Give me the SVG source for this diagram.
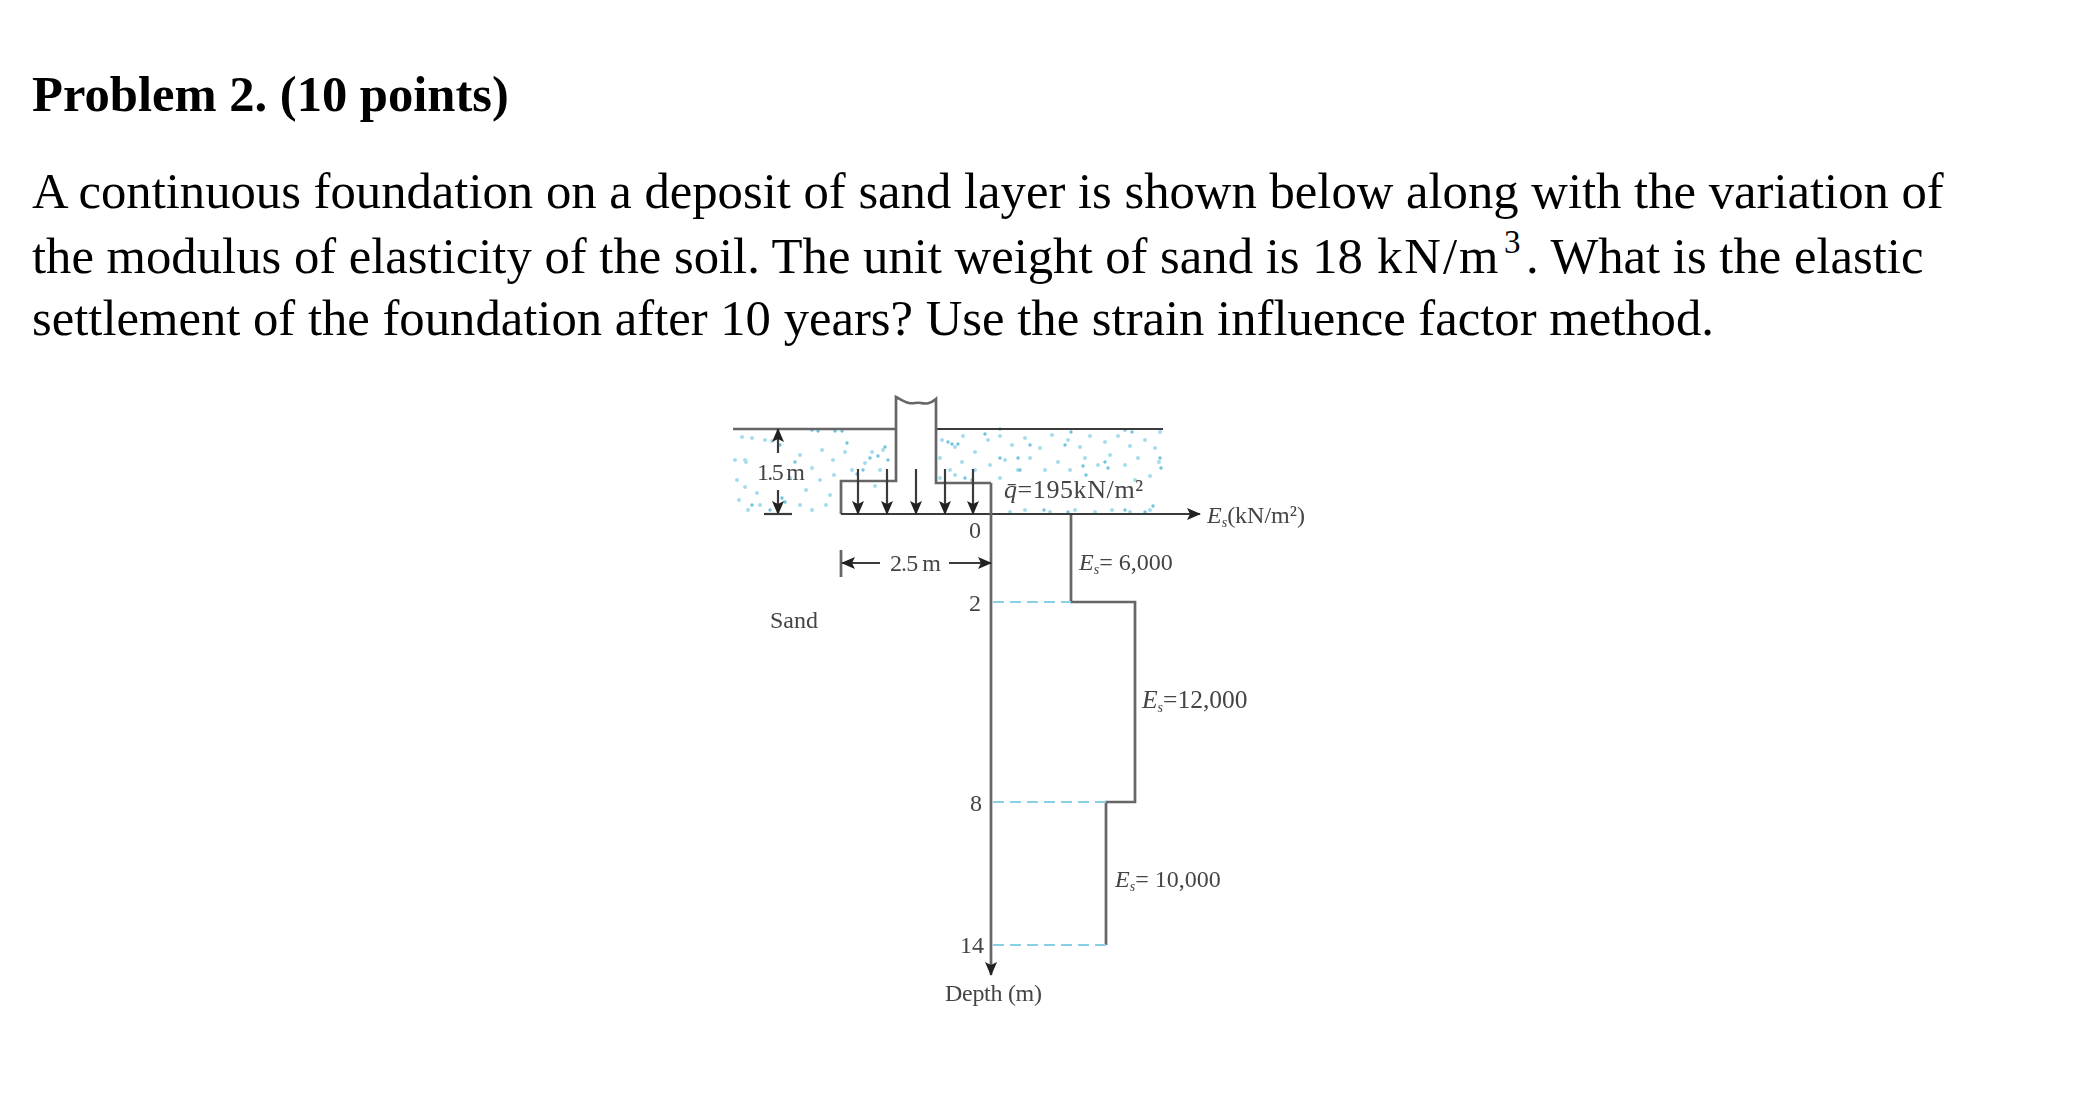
<svg xmlns="http://www.w3.org/2000/svg" width="2079" height="1112" viewBox="0 0 2079 1112">
<style>
.page{font-family:"Liberation Serif","Times New Roman",serif;fill:#000}
.h{font-size:50.6px;font-weight:bold}
.b{font-size:50.7px}
.sup{font-size:33px}
.t{font-family:"Liberation Serif","Times New Roman",serif;fill:#444;font-size:24px}
.i{font-style:italic}
.sub{font-size:14px}
.ln{fill:none;stroke:#666;stroke-width:2.7}
.blk{fill:none;stroke:#3a3a3a;stroke-width:2.2}
.dash{fill:none;stroke:#86d2e4;stroke-width:2;stroke-dasharray:11 6}
.dots{fill:none;stroke:#a6dcec;stroke-width:4;stroke-linecap:round}
.dots2{fill:none;stroke:#6fc3dc;stroke-width:3.4;stroke-linecap:round}
</style>
<defs>
<filter id="soft" x="-5%" y="-5%" width="110%" height="110%"><feGaussianBlur stdDeviation="0.7"/></filter>
<marker id="ah" viewBox="0 0 14 12" refX="13" refY="6" markerWidth="14" markerHeight="12" markerUnits="userSpaceOnUse" orient="auto"><path d="M0 0L14 6L0 12L3 6Z" fill="#222"/></marker>
</defs>
<rect width="2079" height="1112" fill="#fff"/>
<g id="problem-text" class="page">
<text class="h" x="32" y="111">Problem 2. (10 points)</text>
<text class="b" x="32" y="208">A continuous foundation on a deposit of sand layer is shown below along with the variation of</text>
<text class="b" x="32" y="273">the modulus of elasticity of the soil. The unit weight of sand is 18 <tspan x="1377" letter-spacing="2">kN/m</tspan><tspan x="1504" dy="-20" class="sup">3</tspan><tspan x="1526" dy="20">. What is the elastic</tspan></text>
<text class="b" x="32" y="335">settlement of the foundation after 10 years? Use the strain influence factor method.</text>
</g>
<g filter="url(#soft)">
<g id="sand-stipple">
<path class="dots" d="M742 437h0M752 438h0M765 440h0M745 460h0M746 462h0M737 480h0M739 500h0M748 510h0M757 493h0M772 441h0M800 455h0M812 468h0M822 450h0M833 460h0M845 452h0M852 470h0M865 463h0M872 452h0M883 450h0M820 480h0M834 475h0M806 490h0M800 505h0M790 478h0M812 510h0M830 495h0M745 487h0M760 505h0M735 460h0M880 470h0M875 486h0M826 505h0M942 440h0M955 447h0M963 436h0M975 452h0M988 440h0M1000 436h0M1012 445h0M1025 438h0M1040 448h0M1052 435h0M1068 440h0M1080 447h0M1090 436h0M1105 442h0M1118 436h0M1130 446h0M1145 440h0M1155 448h0M1159 462h0M1138 458h0M1125 465h0M1110 455h0M1098 465h0M1085 458h0M1070 470h0M1058 462h0M1045 470h0M1030 458h0M1018 470h0M1005 460h0M990 465h0M975 470h0M962 462h0M950 470h0M940 458h0M1000 478h0M1150 476h0M1135 480h0M1150 510h0M1130 512h0M1112 510h0M1095 512h0M1075 510h0M1050 512h0M1025 510h0M1010 512h0M940 478h0M955 475h0M1160 432h0"/>
<path class="dots2" d="M812 430h0M818 431h0M835 431h0M842 431h0M780 445h0M795 462h0M847 443h0M870 458h0M878 456h0M885 447h0M888 460h0M863 470h0M857 474h0M785 502h0M782 498h0M770 510h0M752 505h0M948 442h0M952 444h0M958 444h0M985 434h0M1000 458h0M1018 458h0M1030 445h0M1065 445h0M1083 466h0M1105 462h0M1086 475h0M1108 468h0M1125 430h0M1132 432h0M1160 458h0M1161 468h0M1153 506h0M965 478h0M972 480h0M1000 429h0M1020 470h0M1071 432h0M1044 510h0M1068 512h0M1125 510h0M1145 512h0"/>
</g>
<g id="foundation">
<path class="ln" d="M733 429H896"/>
<path class="blk" d="M936 429H1163"/>
<path class="ln" d="M841 514V481H896V397C900 399 904 402 909 403S916 402 921 403S930 404 936 399V483H991"/>
</g>
<g id="soil-profile">
<path class="ln" d="M1071 514V602H1135V802H1106V945"/>
</g>
<g id="connectors">
<path class="blk" d="M841 514H1200" marker-end="url(#ah)"/>
<path class="ln" d="M991 483V975" marker-end="url(#ah)"/>
<path class="dash" d="M993 602H1071M993 802H1106M993 945H1106"/>
<path class="blk" d="M858 469V514" marker-end="url(#ah)"/>
<path class="blk" d="M887 469V514" marker-end="url(#ah)"/>
<path class="blk" d="M916 469V514" marker-end="url(#ah)"/>
<path class="blk" d="M945 469V514" marker-end="url(#ah)"/>
<path class="blk" d="M973 469V514" marker-end="url(#ah)"/>
<path class="blk" d="M778 453V429" marker-end="url(#ah)"/>
<path class="blk" d="M778 490V514" marker-end="url(#ah)"/>
<path class="blk" d="M764 514H792"/>
<path class="ln" d="M841 550V577"/>
<path class="blk" d="M880 563H842" marker-end="url(#ah)"/>
<path class="blk" d="M949 563H991" marker-end="url(#ah)"/>
</g>
<g id="labels" class="t">
<text x="757" y="480" textLength="48">1.5 m</text>
<text x="770" y="628">Sand</text>
<text x="890" y="571" textLength="51">2.5 m</text>
<text x="975" y="538" text-anchor="middle">0</text>
<text x="975" y="611" text-anchor="middle">2</text>
<text x="976" y="811" text-anchor="middle">8</text>
<text x="984" y="953" text-anchor="end">14</text>
<text x="945" y="1001" textLength="97">Depth (m)</text>
<text x="1004" y="498" font-size="26" textLength="139"><tspan class="i">q̄</tspan>=195kN/m²</text>
<text x="1207" y="523"><tspan class="i">E<tspan class="sub" dy="4">s</tspan></tspan><tspan dy="-4">(kN/m²)</tspan></text>
<text x="1079" y="570"><tspan class="i">E<tspan class="sub" dy="4">s</tspan></tspan><tspan dy="-4">= 6,000</tspan></text>
<text x="1142" y="708" font-size="25.5"><tspan class="i">E<tspan class="sub" dy="4">s</tspan></tspan><tspan dy="-4">=12,000</tspan></text>
<text x="1115" y="887"><tspan class="i">E<tspan class="sub" dy="4">s</tspan></tspan><tspan dy="-4">= 10,000</tspan></text>
</g>
</g>
</svg>
